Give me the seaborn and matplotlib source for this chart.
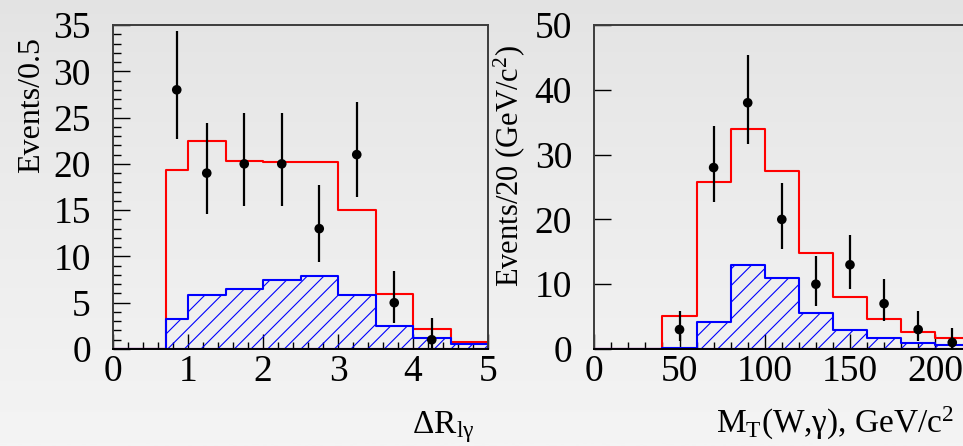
import numpy as np
import matplotlib
matplotlib.use("Agg")
import matplotlib.pyplot as plt
from matplotlib.colors import LinearSegmentedColormap
from matplotlib.ticker import MultipleLocator
import seaborn as sns

# ---------------- data ----------------
# Left panel: Delta R(l, gamma)
dr_edges = [0.0, 0.7, 1.0, 1.5, 2.0, 2.5, 3.0, 3.5, 4.0, 4.5, 5.0]
dr_total = [0.0, 19.3, 22.5, 20.3, 20.2, 20.2, 15.0, 5.9, 2.2, 0.8]
dr_bkg = [0.0, 3.2, 5.8, 6.5, 7.4, 7.9, 5.8, 2.5, 1.2, 0.5]
dr_x = [0.85, 1.25, 1.75, 2.25, 2.75, 3.25, 3.75, 4.25]
dr_n = [28, 19, 20, 20, 13, 21, 5, 1]
dr_err_lo = [5.3, 4.4, 4.5, 4.5, 3.6, 4.6, 2.2, 1.0]
dr_err_hi = [6.4, 5.4, 5.5, 5.5, 4.7, 5.7, 3.4, 2.3]

# Right panel: M_T(W, gamma)
mt_edges = [0, 20, 40, 60, 80, 100, 120, 140, 160, 180, 200, 220]
mt_total = [0.0, 0.0, 5.05, 25.7, 33.95, 27.4, 14.8, 8.0, 4.6, 2.7, 1.75]
mt_bkg = [0.0, 0.0, 0.2, 4.2, 12.9, 10.9, 5.6, 3.0, 1.65, 0.97, 0.6]
mt_x = [50, 70, 90, 110, 130, 150, 170, 190, 210]
mt_n = [3, 28, 38, 20, 10, 13, 7, 3, 1]
mt_err_lo = [1.8, 5.3, 6.3, 4.5, 3.3, 3.7, 2.7, 1.7, 1.0]
mt_err_hi = [2.9, 6.4, 7.3, 5.6, 4.3, 4.6, 3.75, 2.9, 2.3]

dr_yticks = [0, 5, 10, 15, 20, 25, 30, 35]
dr_xticks = [0, 1, 2, 3, 4, 5]
mt_yticks = [0, 10, 20, 30, 40, 50]
mt_xticks = [0, 50, 100, 150, 200]

# ---------------- style ----------------
sns.set_style("ticks")
plt.rcParams["font.family"] = ["Liberation Serif", "DejaVu Serif"]
plt.rcParams["mathtext.fontset"] = "custom"
plt.rcParams["mathtext.rm"] = "Liberation Serif"
plt.rcParams["mathtext.it"] = "Liberation Serif:italic"
plt.rcParams["mathtext.bf"] = "Liberation Serif:bold"
plt.rcParams["hatch.linewidth"] = 0.8
for key in ["text.color", "axes.labelcolor", "xtick.color", "ytick.color",
            "xtick.labelcolor", "ytick.labelcolor"]:
    plt.rcParams[key] = "black"

W, H = 963, 446
fig = plt.figure(figsize=(W / 100, H / 100), dpi=100, facecolor="#ececec")

# gradient background
bg = fig.add_axes([0, 0, 1, 1], zorder=-10)
cmap = LinearSegmentedColormap.from_list("bg", ["#e3e3e3", "#f4f4f4"])
bg.imshow(np.linspace(0, 1, 256).reshape(-1, 1) ** 0.8, cmap=cmap, aspect="auto",
          extent=[0, 1, 0, 1])
bg.axis("off")


def px_axes(x0, y_top, w, h):
    return fig.add_axes([x0 / W, (H - y_top - h) / H, w / W, h / H])


axL = px_axes(113, 25, 375, 324)
axR = px_axes(594.3, 25, 375, 324)


def centers(edges):
    e = np.asarray(edges, dtype=float)
    return (e[:-1] + e[1:]) / 2


def draw_panel(ax, edges, total, bkg, x, n, lo, hi):
    c = centers(edges)
    sns.histplot(x=c, weights=total, bins=edges, element="step", fill=True,
                 facecolor="none", color="#ff0000", linewidth=1.5, ax=ax)
    sns.histplot(x=c, weights=bkg, bins=edges, element="step", fill=True,
                 facecolor="none", color="#0000ff", hatch="//", linewidth=1.5,
                 ax=ax)
    ax.errorbar(x, n, yerr=[lo, hi], fmt="none", ecolor="black",
                elinewidth=1.6, capsize=0, zorder=4)
    sns.scatterplot(x=x, y=n, color="black", s=48, edgecolor="none",
                    zorder=5, ax=ax)
    ax.set_xlabel("")
    ax.set_ylabel("")
    ax.set_facecolor("none")
    for side in ["left", "top", "right"]:
        ax.spines[side].set_color("#3c3c3c")
        ax.spines[side].set_linewidth(1.4)
    ax.spines["bottom"].set_color("black")
    ax.spines["bottom"].set_linewidth(1.4)
    ax.tick_params(axis="both", which="both", direction="in", colors="black",
                   labelcolor="black", labelsize=27, width=1.0)
    ax.tick_params(axis="y", which="major", length=12, pad=16)
    ax.tick_params(axis="y", which="minor", length=6)
    ax.tick_params(axis="x", which="major", length=10.5, pad=4)
    ax.tick_params(axis="x", which="minor", length=5)


draw_panel(axL, dr_edges, dr_total, dr_bkg, dr_x, dr_n, dr_err_lo, dr_err_hi)
axL.set_xlim(0, 5)
axL.set_ylim(0, 35)
axL.set_xticks(dr_xticks)
axL.set_yticks(dr_yticks)
axL.xaxis.set_minor_locator(MultipleLocator(0.2))
axL.yaxis.set_minor_locator(MultipleLocator(1))

draw_panel(axR, mt_edges, mt_total, mt_bkg, mt_x, mt_n, mt_err_lo, mt_err_hi)
axR.set_xlim(0, 220)
axR.set_ylim(0, 50)
axR.set_xticks(mt_xticks)
axR.set_yticks(mt_yticks)
axR.xaxis.set_minor_locator(MultipleLocator(10))

# axis titles
fig.text(32 / W, 1 - 37 / H, "Events/0.5", rotation=90, ha="center", va="top",
         fontsize=23, color="black")
fig.text(509 / W, 1 - 45 / H, r"Events/20 (GeV/c$^{2}$)", rotation=90,
         ha="center", va="top", fontsize=22, color="black")
fig.text(474 / W, 13 / H, r"$\mathrm{\Delta R_{l\gamma}}$", ha="right",
         va="baseline", fontsize=24, color="black")
fig.text(954 / W, 13 / H, r"$\mathrm{M_{T}(W{,}\gamma){,}\ GeV/c^{2}}$",
         ha="right", va="baseline", fontsize=24, color="black")

fig.savefig("out.png", dpi=100, facecolor=fig.get_facecolor())
